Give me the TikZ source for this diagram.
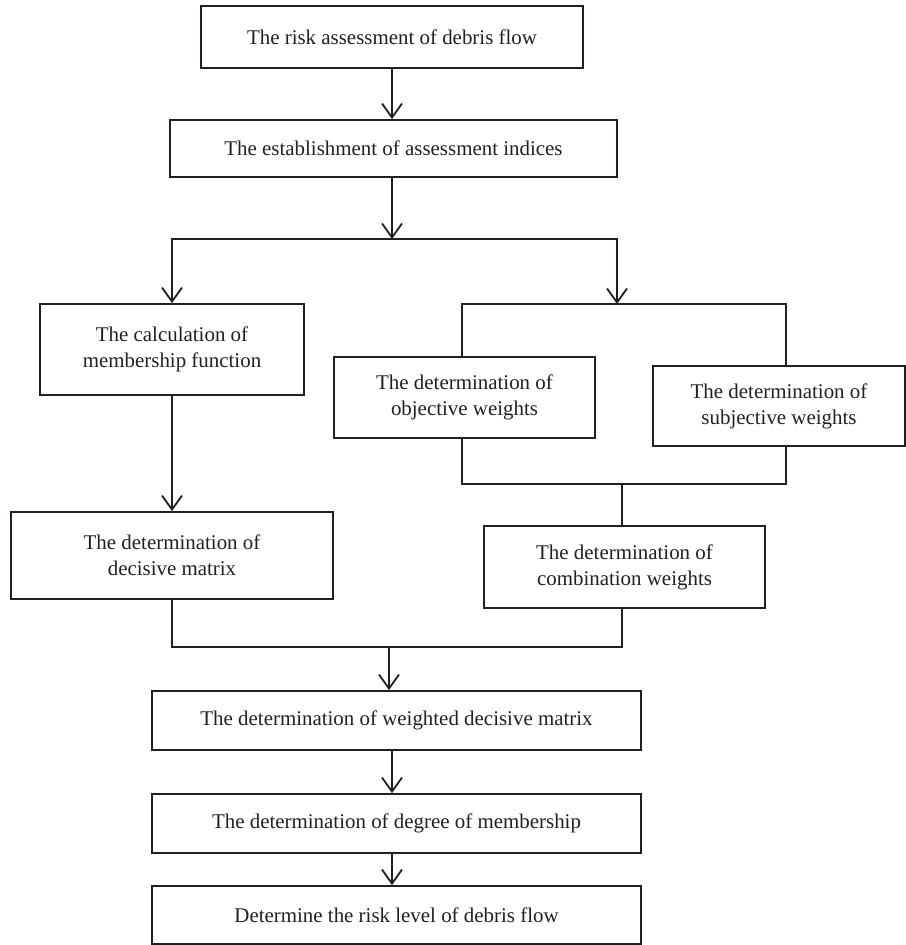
\documentclass[tikz,border=0pt]{standalone}
\usepackage{fontspec}
\setmainfont{Liberation Serif}
\usepackage{tikz}
\usetikzlibrary{arrows.meta, positioning}
\definecolor{ink}{HTML}{231F20}

\begin{document}
\begin{tikzpicture}[
    x=1bp, y=-1bp,
    flowbox/.style={rectangle, draw=ink, line width=1.8bp, text=ink, align=center,
      inner sep=0pt, font=\fontsize{21}{26}\selectfont},
    line/.style={draw=ink, line width=1.8bp},
    arr/.style={line, -{Straight Barb[length=14bp, width=20bp]}}
  ]
    \useasboundingbox (0,0) rectangle (906,945);

    % main column
    \node[flowbox, minimum width=382bp, minimum height=62bp] (risk) at (392,37)
      {The risk assessment of debris flow};
    \node[flowbox, minimum width=447bp, minimum height=57bp] (indices) at (393.5,148.5)
      {The establishment of assessment indices};

    % left branch
    \node[flowbox, minimum width=264bp, minimum height=91bp] (membership) at (172,349.5)
      {The calculation of\\membership function};
    \node[flowbox, minimum width=322bp, minimum height=87bp] (decisive) at (172,555.5)
      {The determination of\\decisive matrix};

    % right branch
    \node[flowbox, minimum width=261bp, minimum height=81bp] (objective) at (464.5,397.5)
      {The determination of\\objective weights};
    \node[flowbox, minimum width=252bp, minimum height=80bp] (subjective) at (779,406)
      {The determination of\\subjective weights};
    \node[flowbox, minimum width=281bp, minimum height=82bp] (combination) at (624.5,567)
      {The determination of\\combination weights};

    % lower column
    \node[flowbox, minimum width=489bp, minimum height=59bp] (weighted) at (396.5,720.5)
      {The determination of weighted decisive matrix};
    \node[flowbox, minimum width=489bp, minimum height=59bp] (degree) at (396.5,823.5)
      {The determination of degree of membership};
    \node[flowbox, minimum width=489bp, minimum height=58bp] (level) at (396.5,915)
      {Determine the risk level of debris flow};

    \coordinate (split) at (392,239);
    \coordinate (wtop) at (617,304);
    \coordinate (wbot) at (622,484);
    \coordinate (merge) at (389,647);

    \draw[arr] (risk.south) -- (risk.south |- indices.north);
    \draw[arr] (risk.south |- indices.south) -- (split);
    \draw[arr] (split) -| (membership.north);
    \draw[arr] (split) -| (wtop);
    \draw[line] ([xshift=-2.5bp]objective.north) |- (wtop) -| ([xshift=7bp]subjective.north);
    \draw[line] ([xshift=-2.5bp]objective.south) |- (wbot) -| ([xshift=7bp]subjective.south);
    \draw[line] (wbot) -- (wbot |- combination.north);
    \draw[arr] (membership.south) -- (membership.south |- decisive.north);
    \draw[line] (decisive.south) |- (merge) -| (wbot |- combination.south);
    \draw[arr] (merge) -- (merge |- weighted.north);
    \draw[arr] (weighted.south -| risk) -- (degree.north -| risk);
    \draw[arr] (degree.south -| risk) -- (level.north -| risk);
\end{tikzpicture}
\end{document}
